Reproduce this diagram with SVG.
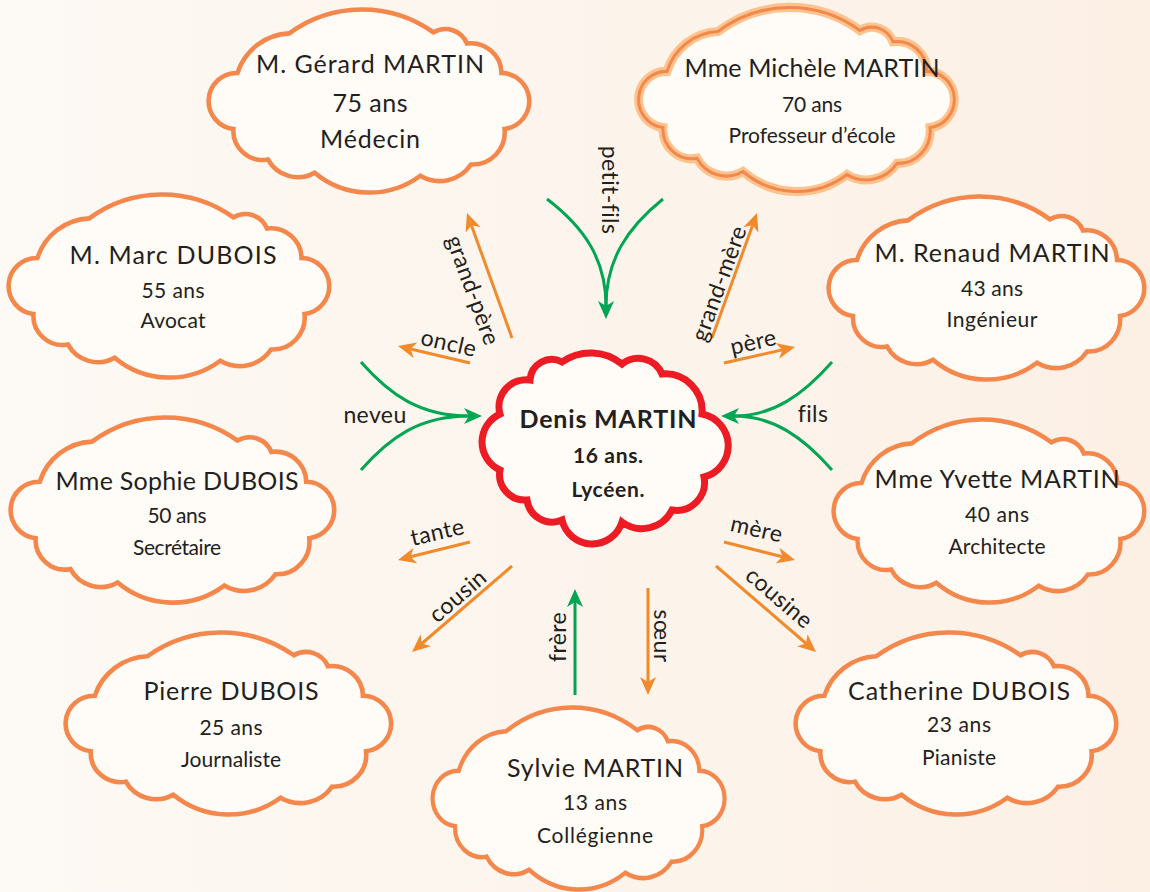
<svg xmlns="http://www.w3.org/2000/svg" xmlns:xlink="http://www.w3.org/1999/xlink" width="1150" height="892" viewBox="0 0 1150 892">
<style>
text{font-family:Lato,"Open Sans","Liberation Sans",sans-serif;fill:#231f20;text-anchor:middle}
.nm{font-size:25px}
.sm{font-size:21px}
.b{font-weight:bold}
.lb{font-size:23px;letter-spacing:0.4px;dominant-baseline:central}
.cl{fill:#fffbf6;stroke:#f4874b;stroke-width:4.5;vector-effect:non-scaling-stroke}
.or{fill:none;stroke:#f18a2b;stroke-width:3}
.gr{fill:none;stroke:#00a651;stroke-width:3}
</style>
<defs>
<linearGradient id="bg" x1="0" y1="0" x2="1" y2="0">
<stop offset="0" stop-color="#fdf9f4"/>
<stop offset="1" stop-color="#fcf0e5"/>
</linearGradient>
<path id="cloud" d="M29,62 A56,56 0 0 1 80,23 A121,121 0 0 1 222,22 A23,23 0 0 1 255,33 A30,30 0 0 1 289,62 A27.6,27.6 0 0 1 292,117 A31.7,31.7 0 0 1 259,152 A37.5,37.5 0 0 1 209,163 A84,84 0 0 1 105,160 A33.5,33.5 0 0 1 59,147 A28.8,28.8 0 0 1 25,117 A27.6,27.6 0 0 1 29,62 Z"/>
<marker id="ao" viewBox="0 0 18 16" markerWidth="18" markerHeight="16" markerUnits="userSpaceOnUse" refX="5" refY="8" orient="auto">
<path d="M0,0 L18,8 L0,16 L5,8 Z" fill="#f18a2b"/>
</marker>
<marker id="ag" viewBox="0 0 18 16" markerWidth="18" markerHeight="16" markerUnits="userSpaceOnUse" refX="5" refY="8" orient="auto">
<path d="M0,0 L18,8 L0,16 L5,8 Z" fill="#00a651"/>
</marker>
</defs>
<rect width="1150" height="892" fill="url(#bg)"/>

<g id="connectors">
<path class="gr" d="M547,199 C585,228 606,260 606,306"/>
<path class="gr" d="M663,199 C627,228 606,260 606,306" marker-end="url(#ag)"/>
<path class="or" d="M512,338 L471.4,225.2" marker-end="url(#ao)"/>
<path class="or" d="M712,338 L752.6,225.2" marker-end="url(#ao)"/>
<path class="or" d="M470,363 L410.6,349" marker-end="url(#ao)"/>
<path class="or" d="M724,363 L782.3,349.9" marker-end="url(#ao)"/>
<path class="gr" d="M361,362 C390,395 420,416 469,416"/>
<path class="gr" d="M361,470 C390,437 420,416 469,416" marker-end="url(#ag)"/>
<path class="gr" d="M832,362 C803,395 773,416 734,416"/>
<path class="gr" d="M832,470 C803,437 773,416 734,416" marker-end="url(#ag)"/>
<path class="or" d="M470,542 L410.6,556.8" marker-end="url(#ao)"/>
<path class="or" d="M724,542 L782.4,556.8" marker-end="url(#ao)"/>
<path class="or" d="M512,566 L421.9,643.5" marker-end="url(#ao)"/>
<path class="or" d="M716,566 L806.1,643.5" marker-end="url(#ao)"/>
<path class="gr" d="M575,695 L575,602" marker-end="url(#ag)"/>
<path class="or" d="M648,588 L648,682" marker-end="url(#ao)"/>
<text class="lb" transform="translate(611,190) rotate(90)">petit-fils</text>
<text class="lb" transform="translate(474,290) rotate(70)">grand-père</text>
<text class="lb" transform="translate(718,283) rotate(-70)">grand-mère</text>
<text class="lb" transform="translate(449,342) rotate(13)">oncle</text>
<text class="lb" transform="translate(753,341) rotate(-13)">père</text>
<text class="lb" x="375" y="414">neveu</text>
<text class="lb" x="813" y="413">fils</text>
<text class="lb" transform="translate(437,531) rotate(-13)">tante</text>
<text class="lb" transform="translate(757,528) rotate(13)">mère</text>
<text class="lb" transform="translate(457,595) rotate(-40.7)">cousin</text>
<text class="lb" transform="translate(780,597) rotate(40.7)">cousine</text>
<text class="lb" transform="translate(557,637) rotate(-90)">frère</text>
<text class="lb" transform="translate(663,636) rotate(90)">sœur</text>
</g>

<g id="gerard">
<use xlink:href="#cloud" class="cl" transform="translate(208,10) scale(1.0156,1.0167)"/>
<text class="nm" x="370" y="73" textLength="228" lengthAdjust="spacing">M. Gérard MARTIN</text>
<text class="nm" x="370" y="112" textLength="75" lengthAdjust="spacing">75 ans</text>
<text class="nm" x="370" y="148" textLength="100" lengthAdjust="spacing">Médecin</text>
</g>
<g id="michele">
<use xlink:href="#cloud" transform="translate(638,8) scale(1.0,1.022)" style="fill:#fffbf6;stroke:#fbc48f;stroke-width:9;vector-effect:non-scaling-stroke"/>
<use xlink:href="#cloud" transform="translate(638,8) scale(1.0,1.022)" style="fill:none;stroke:#f4874b;stroke-width:3;vector-effect:non-scaling-stroke"/>
<text class="nm" x="812" y="77" textLength="255" lengthAdjust="spacing">Mme Michèle MARTIN</text>
<text class="sm" x="812" y="112" textLength="60" lengthAdjust="spacing">70 ans</text>
<text class="sm" x="812" y="143" textLength="167" lengthAdjust="spacing">Professeur d’école</text>
</g>
<g id="marc">
<use xlink:href="#cloud" class="cl" transform="translate(8,195) scale(1.0156,1.0167)"/>
<text class="nm" x="173" y="264" textLength="207" lengthAdjust="spacing">M. Marc DUBOIS</text>
<text class="sm" x="173" y="298" textLength="63" lengthAdjust="spacing">55 ans</text>
<text class="sm" x="173" y="328" textLength="65" lengthAdjust="spacing">Avocat</text>
</g>
<g id="renaud">
<use xlink:href="#cloud" class="cl" transform="translate(828,197) scale(1.0,1.0167)"/>
<text class="nm" x="992" y="262" textLength="235" lengthAdjust="spacing">M. Renaud MARTIN</text>
<text class="sm" x="992" y="296" textLength="62" lengthAdjust="spacing">43 ans</text>
<text class="sm" x="992" y="327" textLength="91" lengthAdjust="spacing">Ingénieur</text>
</g>
<g id="sophie">
<use xlink:href="#cloud" class="cl" transform="translate(10,418) scale(1.025,1.028)"/>
<text class="nm" x="177" y="490" textLength="243" lengthAdjust="spacing">Mme Sophie DUBOIS</text>
<text class="sm" x="177" y="523" textLength="59" lengthAdjust="spacing">50 ans</text>
<text class="sm" x="177" y="555" textLength="88" lengthAdjust="spacing">Secrétaire</text>
</g>
<g id="yvette">
<use xlink:href="#cloud" class="cl" transform="translate(833,420) scale(0.984,1.0167)"/>
<text class="nm" x="997" y="488" textLength="245" lengthAdjust="spacing">Mme Yvette MARTIN</text>
<text class="sm" x="997" y="522" textLength="64" lengthAdjust="spacing">40 ans</text>
<text class="sm" x="997" y="554" textLength="97" lengthAdjust="spacing">Architecte</text>
</g>
<g id="pierre">
<use xlink:href="#cloud" class="cl" transform="translate(65,633) scale(1.031,1.011)"/>
<text class="nm" x="231" y="700" textLength="175" lengthAdjust="spacing">Pierre DUBOIS</text>
<text class="sm" x="231" y="735" textLength="63" lengthAdjust="spacing">25 ans</text>
<text class="sm" x="231" y="767" textLength="100" lengthAdjust="spacing">Journaliste</text>
</g>
<g id="catherine">
<use xlink:href="#cloud" class="cl" transform="translate(795,633) scale(1.0156,1.011)"/>
<text class="nm" x="959" y="700" textLength="222" lengthAdjust="spacing">Catherine DUBOIS</text>
<text class="sm" x="959" y="732" textLength="64" lengthAdjust="spacing">23 ans</text>
<text class="sm" x="959" y="765" textLength="74" lengthAdjust="spacing">Pianiste</text>
</g>
<g id="sylvie">
<use xlink:href="#cloud" class="cl" transform="translate(432,708) scale(0.925,1.011)"/>
<text class="nm" x="595" y="777" textLength="176" lengthAdjust="spacing">Sylvie MARTIN</text>
<text class="sm" x="595" y="810" textLength="64" lengthAdjust="spacing">13 ans</text>
<text class="sm" x="595" y="843" textLength="116" lengthAdjust="spacing">Collégienne</text>
</g>
<g id="denis">
<path d="M18,62 A27,27 0 0 1 48,28 A21.8,21.8 0 0 1 80,10 A50,50 0 0 1 140,12 A26,26 0 0 1 180,22 A37,37 0 0 1 220,62 A32.3,32.3 0 0 1 222,125 A28,28 0 0 1 190,158 A33.5,33.5 0 0 1 140,170 A31.1,31.1 0 0 1 80,168 A25.3,25.3 0 0 1 45,148 A25.4,25.4 0 0 1 18,118 A30.8,30.8 0 0 1 18,62 Z" transform="translate(482,352)" style="fill:#fffbf6;stroke:#ed1c24;stroke-width:7"/>
<text class="nm b" x="608" y="428" style="font-size:25px" textLength="177" lengthAdjust="spacing">Denis MARTIN</text>
<text class="sm b" x="608" y="463" style="font-size:21px" textLength="70" lengthAdjust="spacing">16 ans.</text>
<text class="sm b" x="608" y="497" style="font-size:21px" textLength="73" lengthAdjust="spacing">Lycéen.</text>
</g>
</svg>
